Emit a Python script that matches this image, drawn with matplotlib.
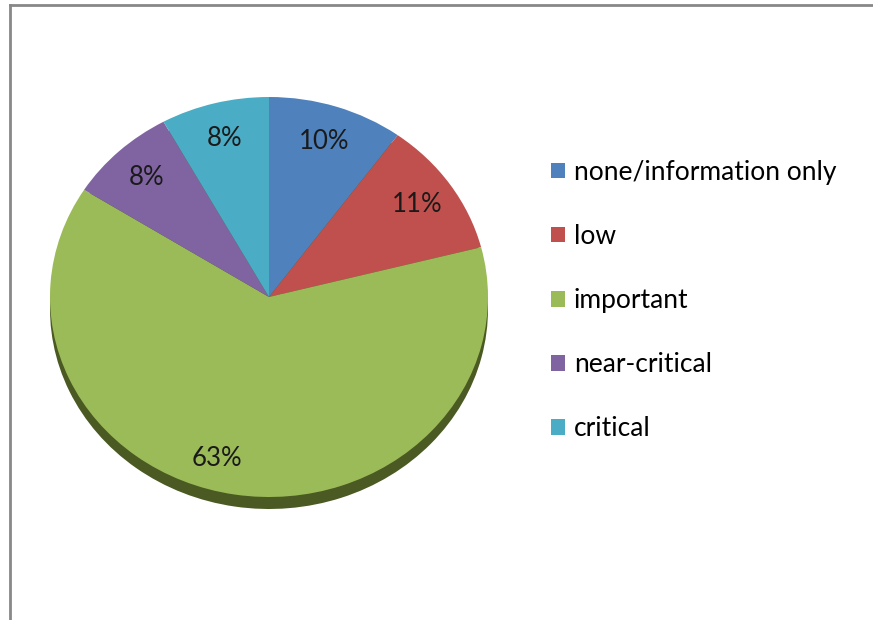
import matplotlib.pyplot as plt
from matplotlib.lines import Line2D

# Severity shares (percent)
categories = ["none/information only", "low", "important", "near-critical", "critical"]
shares = [10, 11, 63, 8, 8]
colors = ["#4F81BD", "#C0504D", "#9BBB59", "#8064A2", "#4BACC6"]
side_color = "#4A5A22"

plt.rcParams['font.family'] = ['Lato', 'DejaVu Sans']

W, H = 873, 620
fig = plt.figure(figsize=(W / 100, H / 100), dpi=100)

# pie top face spans x 50..488, y 97..497 (pixels)
ax = fig.add_axes([50 / W, 1 - 497 / H, 438 / W, 400 / H])
ax.axis('off')

# side wall of the tilted pie, drawn first and shifted down
ax.pie(shares, startangle=90, counterclock=False, radius=1, center=(0, -0.06),
       colors=[side_color] * len(shares), frame=False,
       wedgeprops=dict(clip_on=False, linewidth=0))

wedges, texts, autotexts = ax.pie(
    shares, startangle=90, counterclock=False, radius=1, colors=colors,
    autopct='%1.0f%%', pctdistance=0.82, frame=False,
    wedgeprops=dict(clip_on=False, linewidth=0),
    textprops=dict(fontsize=18.5, color='#1a1a1a'))
ax.set_aspect('auto')
ax.set_xlim(-1, 1)
ax.set_ylim(-1, 1)

# the big slice's label sits a little further left in the original
x63, y63 = autotexts[2].get_position()
autotexts[2].set_position((x63 - 0.11, y63))

fig.legend(wedges, categories, loc='upper left', bbox_to_anchor=(551 / W, 1 - 160 / H),
           frameon=False, fontsize=19, handlelength=0.53, handleheight=0.53,
           handletextpad=0.34, labelspacing=1.48, borderaxespad=0, borderpad=0)

# chart frame (left and top edges visible)
fig.add_artist(Line2D([9.5 / W, 9.5 / W], [0, 1 - 5 / H], color='#888888', lw=2))
fig.add_artist(Line2D([9.5 / W, 1], [1 - 5 / H, 1 - 5 / H], color='#888888', lw=2))

fig.savefig('out.png', dpi=100)
